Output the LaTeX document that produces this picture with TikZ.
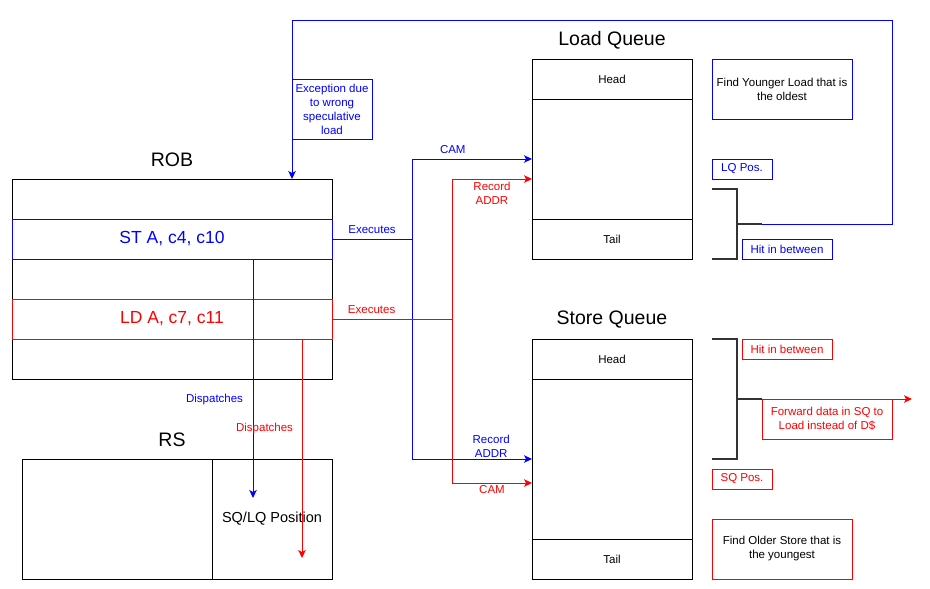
\documentclass[tikz,border=0pt]{standalone}
\usepackage{fontspec}
\setmainfont{Liberation Sans}
\usetikzlibrary{arrows.meta,positioning}

\begin{document}
\begin{tikzpicture}[
  x=1pt, y=-1pt, line width=1pt,
  every node/.style={inner sep=0pt, outer sep=0pt},
  title/.style={font=\fontsize{19.5}{22}\selectfont},
  robrow/.style={minimum width=320pt, minimum height=40pt, font=\fontsize{17.5}{20}\selectfont},
  qrow/.style={draw, minimum width=160pt, minimum height=40pt, font=\fontsize{11.5}{14}\selectfont},
  note/.style={draw, fill=white, align=center, font=\fontsize{11.5}{14}\selectfont},
  lbl/.style={align=center, font=\fontsize{11.5}{14}\selectfont},
  arrow/.style={-{Stealth[length=8pt, width=7.5pt, inset=2pt]}},
  brace/.style={line width=2pt, draw=black!80}
]
\useasboundingbox (0,0) rectangle (930,589);

% ROB
\node[title] (robtitle) at (172,160) {ROB};
\node[draw, minimum width=320pt, minimum height=200pt, anchor=north west] (rob) at (12,179) {};
\node[robrow, below=0pt of rob.north] (robr1) {};
\node[robrow, draw=blue, text=blue, below=0pt of robr1] (st) {ST A, c4, c10};
\node[robrow, below=0pt of st] (robr3) {};
\node[robrow, draw=red, text=red, below=0pt of robr3] (ld) {LD A, c7, c11};

% RS
\node[title] (rstitle) at (172,440) {RS};
\node[draw, minimum width=190pt, minimum height=120pt, anchor=north west] (rsleft) at (22,459) {};
\node[draw, minimum width=120pt, minimum height=120pt, right=0pt of rsleft, font=\fontsize{14.5}{17}\selectfont] (rspos) {SQ/LQ Position};

% Load Queue
\node[title] (lqtitle) at (612,40) {Load Queue};
\node[qrow, anchor=north west] (lqhead) at (532,59) {Head};
\node[qrow, minimum height=120pt, below=0pt of lqhead] (lqbody) {};
\node[qrow, below=0pt of lqbody] (lqtail) {Tail};

% Store Queue
\node[title] (sqtitle) at (612,320) {Store Queue};
\node[qrow, anchor=north west] (sqhead) at (532,339) {Head};
\node[qrow, minimum height=160pt, below=0pt of sqhead] (sqbody) {};
\node[qrow, below=0pt of sqbody] (sqtail) {Tail};

% notes
\node[note, draw=blue, minimum width=140pt, minimum height=60pt, anchor=north west] (younger) at (712,59) {Find Younger Load that is\\the oldest};
\node[note, draw=blue, text=blue, minimum width=60pt, minimum height=20pt, anchor=north west] (lqpos) at (712,159) {LQ Pos.};
\node[note, draw=blue, text=blue, minimum width=90pt, minimum height=20pt, anchor=north west] (lqhit) at (742,239) {Hit in between};
\node[note, draw=red, text=red, minimum width=90pt, minimum height=20pt, anchor=north west] (sqhit) at (742,339) {Hit in between};
\node[note, draw=red, text=red, minimum width=130pt, minimum height=40pt, anchor=north west] (forward) at (762,399) {Forward data in SQ to\\Load instead of D\$};
\node[note, draw=red, text=red, minimum width=60pt, minimum height=20pt, anchor=north west] (sqpos) at (712,469) {SQ Pos.};
\node[note, draw=red, minimum width=140pt, minimum height=60pt, anchor=north west] (older) at (712,519) {Find Older Store that is\\the youngest};
\node[note, draw=blue, text=blue, minimum width=80pt, minimum height=60pt, anchor=north west] (exception) at (292,79) {Exception due\\to wrong\\speculative\\load};

% brackets
\draw[brace] (712,189) -| (737,259) -- (712,259);
\draw[brace] (737,224) -- (762,224) coordinate (lqtip);
\draw[brace] (712,339) -| (737,459) -- (712,459);
\draw[brace] (737,399) -- (762,399) coordinate (sqtip);

\coordinate (loopcorner) at (892,20);
\coordinate (bsplit) at (412,239);
\coordinate (rsplit) at (452,319);
\coordinate[below=20pt of lqbody.west] (lqrec);
\coordinate[below=24pt of sqbody.west] (sqcam);
\coordinate (stdisp) at (253,498);
\coordinate (lddisp) at (302,558);
\coordinate (fwdend) at (912,399);

% connectors
\draw[blue, arrow] (lqtip) -| (loopcorner) -| (exception.west |- rob.north);
\draw[blue] (st.east) -- node[lbl, above=5pt] {Executes} (bsplit);
\draw[blue, arrow] (bsplit) |- node[lbl, pos=0.67, above=5pt] {CAM} (lqbody.west);
\draw[blue, arrow] (bsplit) |- node[lbl, pos=0.83, above=2pt] {Record\\ADDR} (sqbody.west);
\draw[red] (ld.east) -- node[lbl, pos=0.33, above=5pt] {Executes} (rsplit);
\draw[red, arrow] (rsplit) |- node[lbl, pos=0.75, below=3pt] {Record\\ADDR} (lqrec);
\draw[red, arrow] (rsplit) |- node[lbl, pos=0.75, below=2pt] {CAM} (sqcam);
\draw[blue, arrow] (st.south -| stdisp) -- node[lbl, pos=0.59, left=10pt] {Dispatches} (stdisp);
\draw[red, arrow] (ld.south -| lddisp) -- node[lbl, pos=0.41, left=9pt] {Dispatches} (lddisp);
\draw[red, arrow] (sqtip) -- (fwdend);
\end{tikzpicture}
\end{document}
